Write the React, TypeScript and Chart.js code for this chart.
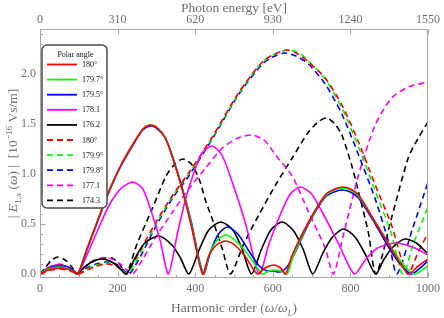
import React, { useEffect, useRef } from "react";
import { Chart, registerables } from "chart.js";

Chart.register(...registerables);

const FONT = "'Liberation Serif', 'Times New Roman', serif";
const TEXT = "#6e6e6e";
const FRAME = "#a8a8a8";

// Axis ticks
const harmonicTicks = [0, 200, 400, 600, 800, 1000];
const energyTicks = [0, 310, 620, 930, 1240, 1550];
const amplitudeTicks = [0, 0.5, 1.0, 1.5, 2.0];

// Legend
const legendTitle = "Polar angle";
const seriesLabels = ["180°", "179.7°", "179.5°", "178.1", "176.2", "180°", "179.9°", "179.8°", "177.1", "174.3"];
const seriesColors = ["#ff0000", "#00ff00", "#0000ff", "#ff00ff", "#000000", "#ff0000", "#00ff00", "#0000ff", "#ff00ff", "#000000"];
const seriesDashed = [false, false, false, false, false, true, true, true, true, true];

// Series: [harmonic order, |E| in 1e-16 Vs/m]
const solid180: [number, number][] = [
  [0, 0], [15, 0.03], [30, 0.05], [50, 0.06], [70, 0.05], [85, 0.03], [97, 0],
  [120, 0.24], [150, 0.55], [180, 0.85], [210, 1.1], [246, 1.34], [265, 1.45], [283, 1.49], [300, 1.47], [323, 1.36], [342, 1.16], [366, 0.85], [390, 0.48], [419, 0],
  [435, 0.18], [455, 0.29], [479, 0.33], [505, 0.28], [530, 0.17], [560, 0],
  [580, 0.06], [603, 0.09], [620, 0.06], [633, 0],
  [650, 0.19], [692, 0.52], [735, 0.79], [760, 0.85], [782, 0.87], [800, 0.85], [821, 0.79], [864, 0.52], [906, 0.25], [930, 0.1], [950, 0], [975, 0.08], [1000, 0.15],
];
const solid179_7: [number, number][] = [
  [0, 0], [15, 0.04], [30, 0.06], [50, 0.07], [70, 0.06], [85, 0.03], [97, 0],
  [120, 0.24], [150, 0.55], [180, 0.85], [210, 1.1], [246, 1.34], [265, 1.45], [283, 1.49], [300, 1.47], [323, 1.36], [342, 1.16], [366, 0.86], [390, 0.5], [420, 0],
  [437, 0.2], [457, 0.34], [479, 0.39], [505, 0.33], [535, 0.2], [573, 0],
  [590, 0.03], [605, 0.04], [620, 0.03], [637, 0],
  [652, 0.17], [692, 0.51], [735, 0.78], [760, 0.84], [782, 0.86], [800, 0.84], [821, 0.78], [864, 0.52], [906, 0.26], [940, 0.08], [965, 0], [1000, 0.08],
];
const solid179_5: [number, number][] = [
  [0, 0], [15, 0.04], [30, 0.07], [50, 0.08], [70, 0.07], [85, 0.04], [98, 0],
  [121, 0.24], [150, 0.54], [180, 0.84], [210, 1.09], [246, 1.33], [265, 1.44], [284, 1.48], [300, 1.46], [323, 1.36], [342, 1.17], [366, 0.87], [390, 0.52], [421, 0],
  [440, 0.23], [460, 0.4], [483, 0.47], [510, 0.4], [540, 0.22], [565, 0.08], [585, 0.03],
  [600, 0.03], [618, 0.02], [632, 0.05],
  [652, 0.17], [692, 0.5], [735, 0.77], [758, 0.82], [778, 0.84], [800, 0.82], [821, 0.76], [864, 0.5], [906, 0.22], [935, 0.07], [958, 0], [1000, 0.13],
];
const solid178_1: [number, number][] = [
  [0, 0], [15, 0.05], [30, 0.08], [50, 0.09], [70, 0.07], [85, 0.04], [97, 0],
  [120, 0.18], [150, 0.45], [180, 0.7], [210, 0.86], [240, 0.92], [265, 0.85], [289, 0.6], [310, 0.33], [331, 0],
  [355, 0.42], [376, 0.76], [400, 1.05], [420, 1.22], [444, 1.28], [470, 1.18], [504, 0.82], [530, 0.5], [565, 0],
  [590, 0.3], [620, 0.6], [645, 0.8], [671, 0.87], [700, 0.8], [730, 0.6], [770, 0.3], [810, 0],
  [840, 0.15], [870, 0.26], [915, 0.31], [960, 0.27], [1000, 0.19],
];
const solid176_2: [number, number][] = [
  [0, 0], [15, 0.045], [30, 0.076], [47, 0.09], [65, 0.08], [80, 0.05], [95, 0],
  [115, 0.07], [135, 0.125], [158, 0.15], [180, 0.13], [200, 0.08], [222, 0],
  [245, 0.16], [270, 0.31], [306, 0.38], [340, 0.29], [362, 0.16], [384, 0],
  [410, 0.24], [435, 0.44], [466, 0.52], [497, 0.44], [520, 0.26], [545, 0],
  [570, 0.24], [595, 0.44], [624, 0.52], [652, 0.44], [678, 0.25], [703, 0],
  [728, 0.2], [752, 0.36], [782, 0.45], [812, 0.37], [838, 0.2], [865, 0],
  [887, 0.15], [910, 0.27], [940, 0.35], [970, 0.31], [1000, 0.2],
];
const dashed180: [number, number][] = [
  [0, 0], [15, 0.02], [30, 0.04], [50, 0.05], [70, 0.04], [85, 0.02], [100, 0],
  [120, 0.04], [145, 0.08], [170, 0.1], [195, 0.08], [210, 0.04], [222, 0],
  [240, 0.11], [256, 0.22], [299, 0.52], [342, 0.79], [385, 1.02], [444, 1.37], [513, 1.82], [573, 2.12], [605, 2.2], [637, 2.24], [665, 2.2], [692, 2.12], [735, 1.96], [778, 1.69], [821, 1.32], [864, 0.89], [906, 0.49], [947, 0], [975, 0.22], [1000, 0.41],
];
const dashed179_9: [number, number][] = [
  [0, 0], [15, 0.03], [30, 0.05], [50, 0.06], [70, 0.05], [85, 0.03], [100, 0],
  [120, 0.05], [145, 0.09], [170, 0.11], [195, 0.09], [212, 0.04], [226, 0],
  [245, 0.11], [260, 0.22], [299, 0.5], [342, 0.78], [385, 1.01], [444, 1.36], [513, 1.81], [573, 2.12], [605, 2.2], [640, 2.24], [668, 2.21], [692, 2.13], [735, 1.95], [778, 1.66], [821, 1.27], [864, 0.83], [906, 0.4], [935, 0], [965, 0.33], [1000, 0.67],
];
const dashed179_8: [number, number][] = [
  [0, 0], [15, 0.03], [30, 0.06], [50, 0.07], [70, 0.06], [85, 0.03], [100, 0],
  [120, 0.06], [145, 0.1], [170, 0.12], [195, 0.1], [215, 0.04], [230, 0],
  [248, 0.1], [265, 0.22], [299, 0.48], [342, 0.76], [385, 0.99], [444, 1.35], [513, 1.8], [573, 2.1], [600, 2.17], [630, 2.21], [660, 2.18], [692, 2.1], [735, 1.9], [778, 1.6], [821, 1.19], [864, 0.75], [900, 0.3], [920, 0], [960, 0.45], [1000, 0.92],
];
const dashed177_1: [number, number][] = [
  [0, 0], [15, 0.04], [30, 0.08], [50, 0.1], [70, 0.08], [85, 0.04], [98, 0],
  [115, 0.07], [135, 0.13], [160, 0.16], [185, 0.15], [210, 0.09], [238, 0],
  [265, 0.15], [300, 0.38], [342, 0.62], [385, 0.86], [427, 1.06], [470, 1.26], [510, 1.36], [547, 1.39], [580, 1.33], [607, 1.19], [650, 0.98], [692, 0.62], [735, 0.26], [756, 0],
  [780, 0.36], [821, 0.99], [864, 1.49], [906, 1.76], [949, 1.87], [1000, 1.92],
];
const dashed174_3: [number, number][] = [
  [0, 0], [15, 0.07], [30, 0.14], [47, 0.17], [65, 0.14], [80, 0.08], [97, 0],
  [115, 0.07], [140, 0.13], [165, 0.16], [186, 0.16], [205, 0.1], [222, 0],
  [250, 0.3], [289, 0.65], [325, 0.98], [348, 1.1], [368, 1.15], [390, 1.1], [410, 0.95], [428, 0.72], [445, 0.54], [470, 0.25], [491, 0],
  [525, 0.3], [564, 0.59], [607, 0.89], [650, 1.16], [692, 1.42], [720, 1.53], [740, 1.56], [760, 1.5], [778, 1.39], [803, 1.09], [821, 0.82], [846, 0.42], [866, 0],
  [906, 0.56], [949, 1.16], [975, 1.36], [1000, 1.52],
];

const seriesData = [solid180, solid179_7, solid179_5, solid178_1, solid176_2, dashed180, dashed179_9, dashed179_8, dashed177_1, dashed174_3];

type Part = { t: string; i?: boolean; s?: "sub" | "sup" };

function drawRich(ctx: CanvasRenderingContext2D, parts: Part[], cx: number, cy: number, size: number, rotate: boolean) {
  const fontFor = (p: Part) => `${p.i ? "italic " : ""}${p.s ? size * 0.68 : size}px ${FONT}`;
  const widths = parts.map((p) => {
    ctx.font = fontFor(p);
    return ctx.measureText(p.t).width;
  });
  const total = widths.reduce((a, b) => a + b, 0);
  ctx.save();
  ctx.translate(cx, cy);
  if (rotate) ctx.rotate(-Math.PI / 2);
  ctx.fillStyle = TEXT;
  ctx.textBaseline = "alphabetic";
  ctx.textAlign = "left";
  let x = -total / 2;
  const base = size * 0.33;
  parts.forEach((p, k) => {
    ctx.font = fontFor(p);
    const dy = p.s === "sub" ? size * 0.25 : p.s === "sup" ? -size * 0.4 : 0;
    ctx.fillText(p.t, x, base + dy);
    x += widths[k];
  });
  ctx.restore();
}

const yTitleParts: Part[] = [
  { t: "| " }, { t: "E", i: true }, { t: "1,", s: "sub" }, { t: "x", i: true, s: "sub" },
  { t: " (" }, { t: "ω", i: true }, { t: ") |  [10" }, { t: "−16", s: "sup" }, { t: " Vs/m]" },
];
const xTitleParts: Part[] = [
  { t: "Harmonic order (" }, { t: "ω", i: true }, { t: "/" }, { t: "ω", i: true }, { t: "L", i: true, s: "sub" }, { t: ")" },
];

const decorPlugin = {
  id: "decor",
  afterDatasetsDraw(chart: any) {
    const { ctx, chartArea: a, scales } = chart;
    const L = Math.round(a.left) + 0.5, R = Math.round(a.right) - 0.5;
    const T = Math.round(a.top) + 0.5, B = Math.round(a.bottom) - 0.5;
    ctx.save();
    ctx.strokeStyle = FRAME;
    ctx.lineWidth = 1;
    ctx.setLineDash([]);
    ctx.strokeRect(L, T, R - L, B - T);
    ctx.beginPath();
    // bottom ticks
    for (let v = 0; v <= 1000; v += 50) {
      const px = Math.round(scales.x.getPixelForValue(v)) + 0.5;
      const len = v % 200 === 0 ? 5 : 2.5;
      ctx.moveTo(px, B); ctx.lineTo(px, B - len);
    }
    // top ticks
    energyTicks.forEach((v) => {
      const px = Math.round(scales.x2.getPixelForValue(v)) + 0.5;
      ctx.moveTo(px, T); ctx.lineTo(px, T + 5);
    });
    // left ticks
    for (let k = 0; k <= 24; k++) {
      const v = k / 10;
      const py = Math.round(scales.y.getPixelForValue(v)) + 0.5;
      const len = k % 5 === 0 ? 5 : 2.5;
      ctx.moveTo(L, py); ctx.lineTo(L + len, py);
    }
    ctx.stroke();

    // legend box
    const bx = 42, by = 45, bw = 65, bh = 163, r = 5;
    ctx.beginPath();
    ctx.moveTo(bx + r, by);
    ctx.lineTo(bx + bw - r, by);
    ctx.arcTo(bx + bw, by, bx + bw, by + r, r);
    ctx.lineTo(bx + bw, by + bh - r);
    ctx.arcTo(bx + bw, by + bh, bx + bw - r, by + bh, r);
    ctx.lineTo(bx + r, by + bh);
    ctx.arcTo(bx, by + bh, bx, by + bh - r, r);
    ctx.lineTo(bx, by + r);
    ctx.arcTo(bx, by, bx + r, by, r);
    ctx.closePath();
    ctx.fillStyle = "#ffffff";
    ctx.fill();
    ctx.strokeStyle = "#4a4a4a";
    ctx.lineWidth = 1.5;
    ctx.stroke();

    ctx.fillStyle = "#111";
    ctx.font = `8px ${FONT}`;
    ctx.textBaseline = "middle";
    ctx.textAlign = "center";
    ctx.fillText(legendTitle, bx + bw / 2 + 1, 55);
    ctx.textAlign = "left";
    chart.data.datasets.forEach((ds: any, k: number) => {
      const ry = 64.5 + k * 15.1;
      ctx.beginPath();
      ctx.strokeStyle = ds.borderColor;
      ctx.lineWidth = 1.8;
      ctx.setLineDash(ds.borderDash && ds.borderDash.length ? [6, 4] : []);
      ctx.moveTo(47, ry); ctx.lineTo(77, ry);
      ctx.stroke();
      ctx.setLineDash([]);
      ctx.fillStyle = "#111";
      ctx.fillText(ds.label, 82, ry + 0.5);
    });
    ctx.restore();
  },
  afterDraw(chart: any) {
    const { ctx, chartArea: a } = chart;
    drawRich(ctx, xTitleParts, (a.left + a.right) / 2, 308, 13.5, false);
    drawRich(ctx, yTitleParts, 13, (a.top + a.bottom) / 2, 13.5, true);
  },
};

export default function App() {
  const ref = useRef<HTMLCanvasElement>(null);
  useEffect(() => {
    const canvas = ref.current;
    if (!canvas) return;
    const datasets = seriesData.map((d, i) => ({
      label: seriesLabels[i],
      data: d.map(([x, y]) => ({ x, y })),
      borderColor: seriesColors[i],
      backgroundColor: seriesColors[i],
      borderWidth: 1.6,
      borderDash: seriesDashed[i] ? [6, 4] : [],
      pointRadius: 0,
      tension: 0.25,
      fill: false,
      xAxisID: "x",
      yAxisID: "y",
    }));
    const tickFont = { family: FONT, size: 12 };
    const chart = new Chart(canvas, {
      type: "line",
      data: { datasets },
      plugins: [decorPlugin],
      options: {
        animation: false,
        responsive: true,
        maintainAspectRatio: false,
        layout: { padding: { left: 0, right: 14, top: 0, bottom: 0 } },
        plugins: { legend: { display: false }, tooltip: { enabled: false } },
        scales: {
          x: {
            type: "linear",
            position: "bottom",
            min: 0,
            max: 1000,
            grid: { display: false, drawTicks: false },
            border: { display: false },
            afterBuildTicks: (s: any) => { s.ticks = harmonicTicks.map((v) => ({ value: v })); },
            ticks: { font: tickFont, color: TEXT, padding: 4, maxRotation: 0, callback: (v: any) => String(v) },
            afterFit: (s: any) => { s.height = 40; },
          },
          x2: {
            type: "linear",
            position: "top",
            min: 0,
            max: 1550,
            grid: { display: false, drawTicks: false },
            border: { display: false },
            afterBuildTicks: (s: any) => { s.ticks = energyTicks.map((v) => ({ value: v })); },
            ticks: { font: tickFont, color: TEXT, padding: 2, maxRotation: 0, callback: (v: any) => String(v) },
            title: { display: true, text: "Photon energy [eV]", font: { family: FONT, size: 13.5 }, color: TEXT, padding: { top: 0, bottom: 0 } },
            afterFit: (s: any) => { s.height = 29; },
          },
          y: {
            type: "linear",
            position: "left",
            min: -0.04,
            max: 2.45,
            grid: { display: false, drawTicks: false },
            border: { display: false },
            afterBuildTicks: (s: any) => { s.ticks = amplitudeTicks.map((v) => ({ value: v })); },
            ticks: { font: tickFont, color: TEXT, padding: 4, callback: (v: any) => Number(v).toFixed(1) },
            afterFit: (s: any) => { s.width = 40; },
          },
        },
      } as any,
    });
    return () => chart.destroy();
  }, []);
  return (
    <div style={{ position: "absolute", left: 0, top: 0, width: 444, height: 318 }}>
      <canvas ref={ref} />
    </div>
  );
}
